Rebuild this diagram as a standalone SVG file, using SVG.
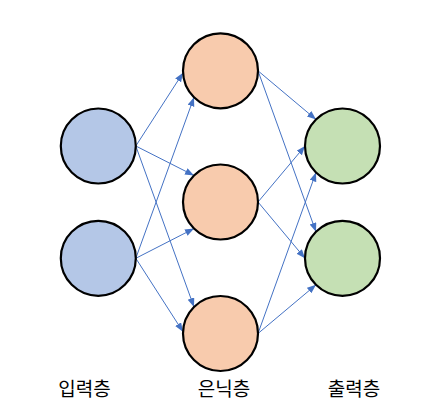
<svg xmlns="http://www.w3.org/2000/svg" width="445" height="408" viewBox="0 0 445 408">
  <defs>
    <marker id="arr" markerUnits="userSpaceOnUse" markerWidth="10" markerHeight="8" refX="9" refY="3.5" orient="auto">
      <path d="M0,0 L9,3.5 L0,7 z" fill="#4472C4"/>
    </marker>
    <style>
      .node circle { stroke: #000; stroke-width: 2.2; }
      .in circle { fill: #B4C7E7; }
      .hid circle { fill: #F8CBAD; }
      .out circle { fill: #C5E0B4; }
      .edges line { stroke: #4472C4; stroke-width: 1; marker-end: url(#arr); }
      .lbl { font-family: "Noto Sans CJK KR", "Noto Sans", sans-serif; font-size: 19px; fill: #000; text-anchor: middle; }
    </style>
  </defs>
  <rect width="445" height="408" fill="#fff"/>
  <g id="connectors" class="edges">
    <line x1="135.8" y1="146" x2="183" y2="72.8"/>
    <line x1="135.8" y1="146" x2="194" y2="175.5"/>
    <line x1="135.8" y1="146" x2="194" y2="307"/>
    <line x1="135.8" y1="258.3" x2="194" y2="97.3"/>
    <line x1="135.8" y1="258.3" x2="194" y2="228.5"/>
    <line x1="135.8" y1="258.3" x2="183" y2="331.8"/>
    <line x1="258" y1="70.8" x2="316" y2="119.5"/>
    <line x1="258" y1="70.8" x2="316" y2="231.8"/>
    <line x1="258" y1="202" x2="305" y2="146"/>
    <line x1="258" y1="202" x2="305" y2="258.3"/>
    <line x1="258" y1="333.5" x2="316" y2="172.5"/>
    <line x1="258" y1="333.5" x2="316" y2="284.8"/>
  </g>
  <g id="input1" class="node in"><circle cx="98.3" cy="146" r="37.5"/></g>
  <g id="input2" class="node in"><circle cx="98.3" cy="258.3" r="37.5"/></g>
  <g id="hidden1" class="node hid"><circle cx="220.5" cy="70.8" r="37.5"/></g>
  <g id="hidden2" class="node hid"><circle cx="220.5" cy="202" r="37.5"/></g>
  <g id="hidden3" class="node hid"><circle cx="220.5" cy="333.5" r="37.5"/></g>
  <g id="output1" class="node out"><circle cx="342.5" cy="146" r="37.5"/></g>
  <g id="output2" class="node out"><circle cx="342.5" cy="258.3" r="37.5"/></g>
  <g id="labels">
    <text class="lbl" x="84.5" y="396">입력층</text>
    <text class="lbl" x="224" y="396">은닉층</text>
    <text class="lbl" x="354" y="396">출력층</text>
  </g>
</svg>
